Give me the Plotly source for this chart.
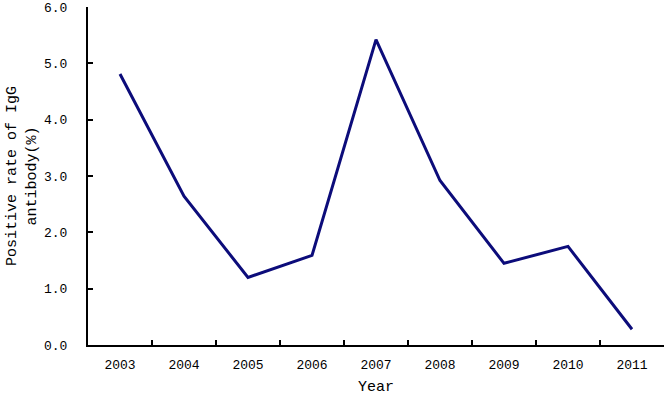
import plotly.graph_objects as go

years = ["2003", "2004", "2005", "2006", "2007", "2008", "2009", "2010", "2011"]
rates = [4.81, 2.64, 1.20, 1.59, 5.42, 2.92, 1.45, 1.75, 0.28]
y_ticks = [0, 1, 2, 3, 4, 5, 6]
y_tick_text = ["0.0", "1.0", "2.0", "3.0", "4.0", "5.0", "6.0"]

FONT = "Liberation Mono, Courier New, monospace"

fig = go.Figure(go.Scatter(
    x=years, y=rates, mode="lines",
    line=dict(color="#0c0c7a", width=3),
))

fig.update_layout(
    width=670, height=398,
    margin=dict(l=88, r=6, t=7, b=53),
    plot_bgcolor="white", paper_bgcolor="white",
    showlegend=False,
    font=dict(family=FONT, size=13, color="black"),
)
fig.update_xaxes(
    type="category", range=[-0.5, 8.5], automargin=False,
    showline=True, linecolor="black", linewidth=2,
    ticks="inside", tickson="boundaries", ticklen=5, tickwidth=1.5, tickcolor="black",
    showgrid=False, zeroline=False,
    ticklabelstandoff=6,
    title=dict(text="Year", font=dict(family=FONT, size=15), standoff=9),
)
fig.update_yaxes(
    range=[0, 6], tickvals=y_ticks, ticktext=y_tick_text, automargin=False,
    showline=True, linecolor="black", linewidth=2,
    ticks="inside", ticklen=5, tickwidth=1.5, tickcolor="black",
    showgrid=False, zeroline=False,
    ticklabelstandoff=16,
    title=dict(text="Positive rate of IgG<br>antibody(%)", font=dict(family=FONT, size=15), standoff=4),
)

fig.write_html("out.html", config={"displayModeBar": False},
               post_script="document.body.style.margin='0';")
